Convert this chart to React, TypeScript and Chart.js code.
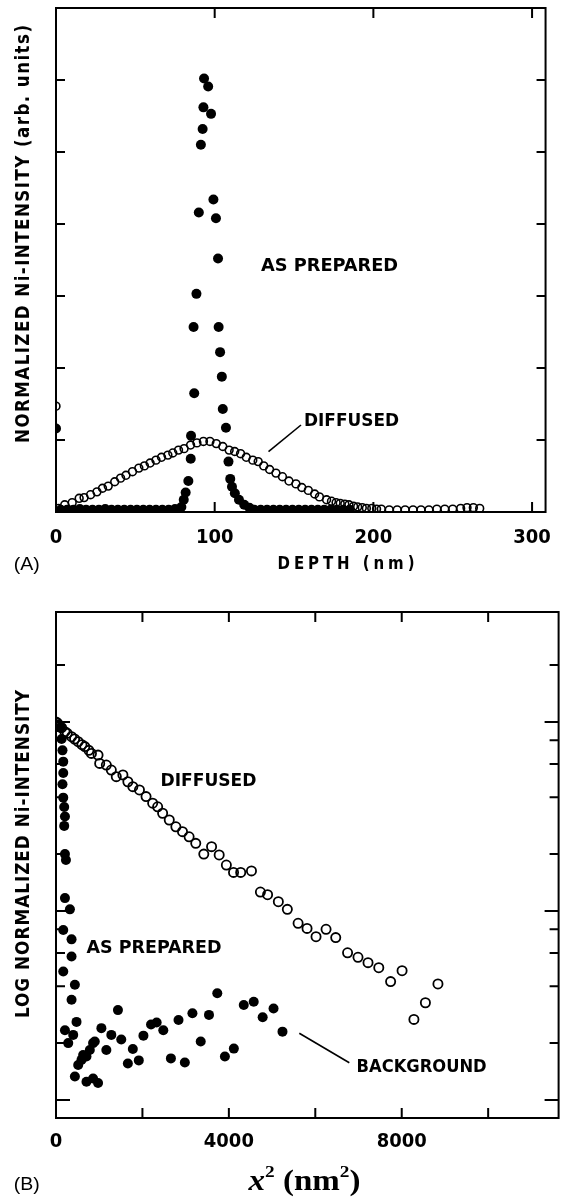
import { useEffect, useRef } from 'react';
import { Chart, registerables } from 'chart.js';

Chart.register(...registerables);

const PANEL_W = 565;
const PANEL_H = 600;
const SANS = "'DejaVu Sans Condensed', 'DejaVu Sans', sans-serif";

// ---------- (A) Ni depth profile ----------
const depthTicks = [0, 100, 200, 300];
const depthTickLabels = ['0', '100', '200', '300'];
const intensityTicksA = [1, 2, 3, 4, 5, 6, 7];

const preparedDepth = [
  93.3, 95.9, 92.9, 97.7, 92.4, 91.3, 99.2, 90.0, 100.8, 102.1, 88.5, 86.7, 102.5, 103.4, 104.5,
  87.1, 105.1, 107.1, 85.1, 84.9, 108.7, 83.4, 109.8, 81.7, 80.5, 79.0, 110.9, 112.7, 115.3, 118.6,
  121.9, 0,
  3, 7, 11, 15, 19, 23, 27, 31, 35, 39, 43, 47, 51, 55, 59, 63, 67, 71, 75,
  125, 129, 133, 137, 141, 145, 149, 153, 157, 161, 165, 169, 173, 177, 181, 185,
];
const preparedIntensity = [
  6.02, 5.91, 5.62, 5.53, 5.32, 5.10, 4.34, 4.16, 4.08, 3.52, 3.03, 2.57, 2.57, 2.22, 1.88,
  1.65, 1.43, 1.17, 1.06, 0.74, 0.70, 0.43, 0.46, 0.27, 0.17, 0.07, 0.35, 0.26, 0.17, 0.10,
  0.06, 1.16,
  0.03, 0.03, 0.03, 0.04, 0.03, 0.03, 0.03, 0.04, 0.03, 0.03, 0.03, 0.03, 0.03, 0.03, 0.03, 0.03, 0.03, 0.03, 0.04,
  0.03, 0.03, 0.03, 0.03, 0.03, 0.03, 0.03, 0.03, 0.03, 0.03, 0.03, 0.03, 0.03, 0.03, 0.03, 0.03,
];

const diffusedDepth = [
  0, 1.5, 5.5, 10.2, 14.6, 17.7, 21.8, 25.8, 29.3, 32.9, 37.0, 40.7, 44.1, 48.2, 52.2, 55.7, 59.3,
  63.0, 66.5, 70.5, 73.6, 77.2, 80.7, 84.8, 88.8, 92.9, 97.0, 101.0, 105.1, 109.1, 112.6, 116.3,
  119.9, 124.0, 127.4, 130.9, 134.6, 138.6, 142.7, 146.8, 151.2, 154.9, 159.0, 163.0, 166.0, 170.5,
  173.6, 176.5, 179.1, 182.0, 184.6, 187.5, 190.1, 193.0, 195.6, 199.0, 202.0,
  205, 210, 215, 220, 225, 230, 235, 240, 245, 250, 255, 259, 263, 267,
];
const diffusedIntensity = [
  1.47, 0.05, 0.10, 0.13, 0.19, 0.20, 0.24, 0.28, 0.33, 0.36, 0.42, 0.47, 0.51, 0.56, 0.61, 0.64, 0.68,
  0.72, 0.76, 0.79, 0.82, 0.86, 0.88, 0.93, 0.96, 0.98, 0.98, 0.95, 0.91, 0.86, 0.84, 0.81,
  0.76, 0.72, 0.70, 0.64, 0.59, 0.54, 0.49, 0.43, 0.39, 0.34, 0.30, 0.25, 0.21, 0.17,
  0.15, 0.13, 0.12, 0.11, 0.10, 0.08, 0.07, 0.06, 0.05, 0.05, 0.04,
  0.04, 0.03, 0.03, 0.03, 0.03, 0.03, 0.03, 0.04, 0.04, 0.04, 0.05, 0.06, 0.06, 0.05,
];

// ---------- (B) log intensity versus x² ----------
const x2Ticks = [0, 2000, 4000, 6000, 8000, 10000];
const x2TickLabels = ['0', '', '4000', '', '8000', ''];
const logTicks = [0.01, 0.02, 0.04, 0.06, 0.08, 0.1, 0.2, 0.4, 0.6, 0.8, 1, 2];
const logDecades = [0.01, 0.1, 1];

const diffusedX2 = [
  0, 30, 60, 92, 130, 207, 260, 360, 430, 513, 600, 667, 760, 820, 973, 1011, 1165, 1280, 1395,
  1548, 1663, 1778, 1931, 2084, 2237, 2352, 2467, 2621, 2774, 2927, 3080, 3234, 3420, 3600, 3776,
  3942, 4108, 4274, 4523, 4730, 4896, 5145, 5353, 5602, 5809, 6017, 6249, 6473, 6747, 6988, 7220,
  7469, 7743, 8008, 8282, 8548, 8838,
];
const diffusedLogIntensity = [
  1.0, 0.989, 0.966, 0.944, 0.933, 0.889, 0.871, 0.836, 0.813, 0.787, 0.759, 0.741, 0.708, 0.682,
  0.668, 0.604, 0.592, 0.557, 0.514, 0.525, 0.483, 0.455, 0.437, 0.403, 0.372, 0.356, 0.329, 0.303,
  0.279, 0.263, 0.247, 0.228, 0.2, 0.219, 0.198, 0.175, 0.16, 0.16, 0.163, 0.126, 0.122, 0.112,
  0.102, 0.0861, 0.0809, 0.0731, 0.08, 0.0723, 0.0601, 0.0569, 0.0533, 0.0501, 0.0423, 0.0483,
  0.0267, 0.0327, 0.0411,
];

const preparedX2 = [
  100, 130, 150, 168, 168, 150, 168, 190, 207, 190, 207, 230, 207, 322, 168, 360, 360, 168, 437, 360,
  475, 207, 398, 283,
  437, 705, 858, 973, 513, 590, 628, 705, 782, 858, 897, 1165, 1050, 1280, 1433, 1510, 1663, 1778,
  1916, 2023, 2199, 2329, 2483, 2659, 2835, 2981, 3157, 3349, 3540, 3732, 3908, 4115, 4345, 4575,
  4782, 5034, 5241,
];
const preparedLogIntensity = [
  0.933, 0.813, 0.708, 0.617, 0.537, 0.468, 0.398, 0.355, 0.316, 0.282, 0.2, 0.186, 0.117, 0.102,
  0.0794, 0.0708, 0.0575, 0.0479, 0.0407, 0.0339, 0.0259, 0.0234, 0.0221, 0.02,
  0.0133, 0.0125, 0.013, 0.0123, 0.0153, 0.0163, 0.0173, 0.017, 0.0184, 0.02, 0.0204, 0.0184, 0.024,
  0.0221, 0.0299, 0.0209, 0.0156, 0.0186, 0.0162, 0.0219, 0.0251, 0.0257, 0.0234, 0.0166, 0.0265,
  0.0158, 0.0288, 0.0204, 0.0282, 0.0367, 0.017, 0.0187, 0.0318, 0.0331, 0.0274, 0.0305, 0.023,
];

const toPoints = (xs: number[], ys: number[]) => xs.map((x, i) => ({ x, y: ys[i] }));

type TextItem = {
  text: string;
  x: number; // centre
  y: number; // centre of capitals
  w: number; // drawn width
  size: number;
  weight?: string;
  font?: string;
  spacing?: number;
  rotate?: boolean;
};

function drawText(ctx: CanvasRenderingContext2D, t: TextItem) {
  ctx.save();
  ctx.font = `${t.weight ?? 'bold'} ${t.size}px ${t.font ?? SANS}`;
  const sp = t.spacing ?? 0;
  (ctx as any).letterSpacing = `${sp}px`;
  const natural = ctx.measureText(t.text).width - sp;
  ctx.translate(t.x, t.y);
  if (t.rotate) ctx.rotate(-Math.PI / 2);
  ctx.scale(t.w / natural, 1);
  ctx.fillStyle = '#000';
  ctx.textAlign = 'left';
  ctx.textBaseline = 'alphabetic';
  ctx.fillText(t.text, -natural / 2, t.size * 0.36);
  ctx.restore();
}

type Segment = [number, number, number, number];

function framePlugin(xTicks: number[], yTicks: number[], majorY: number[], texts: TextItem[], lines: Segment[], extra?: (ctx: CanvasRenderingContext2D) => void) {
  return {
    id: 'frameAndNotes',
    afterDatasetsDraw(chart: any) {
      const { ctx, chartArea: a, scales } = chart;
      ctx.save();
      ctx.strokeStyle = '#000';
      ctx.lineWidth = 2;
      ctx.strokeRect(a.left, a.top, a.right - a.left, a.bottom - a.top);
      ctx.beginPath();
      xTicks.forEach((v) => {
        const x = scales.x.getPixelForValue(v);
        if (x <= a.left + 1 || x >= a.right - 1) return;
        ctx.moveTo(x, a.bottom);
        ctx.lineTo(x, a.bottom - 10);
        ctx.moveTo(x, a.top);
        ctx.lineTo(x, a.top + 10);
      });
      yTicks.forEach((v) => {
        const y = scales.y.getPixelForValue(v);
        if (y <= a.top + 1 || y >= a.bottom - 1) return;
        const len = majorY.includes(v) ? 14 : 9;
        ctx.moveTo(a.left, y);
        ctx.lineTo(a.left + len, y);
        ctx.moveTo(a.right, y);
        ctx.lineTo(a.right - len, y);
      });
      ctx.stroke();
      ctx.lineWidth = 1.6;
      ctx.beginPath();
      lines.forEach(([x1, y1, x2, y2]) => {
        ctx.moveTo(x1, y1);
        ctx.lineTo(x2, y2);
      });
      ctx.stroke();
      ctx.restore();
      texts.forEach((t) => drawText(ctx, t));
      if (extra) extra(ctx);
    },
  };
}

function drawX2Title(ctx: CanvasRenderingContext2D, cx: number, baseline: number, width: number) {
  const serif = "'Liberation Serif', 'DejaVu Serif', serif";
  const parts = [
    { t: 'x', f: `italic bold 29px ${serif}`, dy: 0 },
    { t: '2', f: `bold 17px ${serif}`, dy: -13 },
    { t: ' (nm', f: `bold 29px ${serif}`, dy: 0 },
    { t: '2', f: `bold 17px ${serif}`, dy: -13 },
    { t: ')', f: `bold 29px ${serif}`, dy: 0 },
  ];
  ctx.save();
  let total = 0;
  const widths = parts.map((p) => {
    ctx.font = p.f;
    const w = ctx.measureText(p.t).width;
    total += w;
    return w;
  });
  const k = width / total;
  ctx.translate(cx - width / 2, baseline);
  ctx.scale(k, 1);
  ctx.fillStyle = '#000';
  ctx.textBaseline = 'alphabetic';
  let x = 0;
  parts.forEach((p, i) => {
    ctx.font = p.f;
    ctx.fillText(p.t, x, p.dy);
    x += widths[i];
  });
  ctx.restore();
}

const tickFont = { family: SANS, size: 20, weight: 'bold' as const };

function makeDepthChart(canvas: HTMLCanvasElement) {
  const texts: TextItem[] = [
    { text: 'AS PREPARED', x: 329.5, y: 265, w: 137, size: 18 },
    { text: 'DIFFUSED', x: 351.5, y: 420, w: 95, size: 18 },
    { text: 'DEPTH (nm)', x: 346, y: 563, w: 137, size: 17, spacing: 4 },
    { text: '(A)', x: 26.7, y: 563, w: 26, size: 19, weight: 'normal', font: "'Liberation Sans', Arial, sans-serif" },
    { text: 'NORMALIZED Ni-INTENSITY (arb. units)', x: 22.5, y: 234, w: 418, size: 19, spacing: 1.5, rotate: true },
  ];
  const lines: Segment[] = [[301, 425, 268.5, 451.7]];
  return new Chart(canvas, {
    type: 'scatter',
    data: {
      datasets: [
        {
          label: 'AS PREPARED',
          data: toPoints(preparedDepth, preparedIntensity),
          pointRadius: 5,
          pointBorderWidth: 0,
          pointBackgroundColor: '#000',
          pointBorderColor: '#000',
        },
        {
          label: 'DIFFUSED',
          data: toPoints(diffusedDepth, diffusedIntensity),
          pointRadius: 3.9,
          pointBorderWidth: 1.6,
          pointBackgroundColor: 'rgba(0,0,0,0)',
          pointBorderColor: '#000',
        },
      ],
    },
    options: {
      animation: false,
      responsive: false,
      devicePixelRatio: 1,
      layout: { padding: { left: 0, right: 3, top: 8, bottom: 0 } },
      plugins: { legend: { display: false }, tooltip: { enabled: false } },
      scales: {
        x: {
          type: 'linear',
          min: 0,
          max: 308.5,
          afterBuildTicks: (s: any) => {
            s.ticks = depthTicks.map((value) => ({ value }));
          },
          afterFit: (s: any) => {
            s.height = 88;
          },
          ticks: {
            callback: (_v: any, i: number) => depthTickLabels[i] ?? '',
            font: tickFont,
            color: '#000',
            padding: 14,
            maxRotation: 0,
            autoSkip: false,
          },
          grid: { display: false, drawTicks: false },
          border: { display: false },
        },
        y: {
          type: 'linear',
          min: 0,
          max: 7,
          afterBuildTicks: (s: any) => {
            s.ticks = intensityTicksA.map((value) => ({ value }));
          },
          afterFit: (s: any) => {
            s.width = 56;
          },
          ticks: { display: false },
          grid: { display: false, drawTicks: false },
          border: { display: false },
        },
      },
    },
    plugins: [framePlugin(depthTicks, intensityTicksA, [], texts, lines)],
  } as any);
}

function makeLogChart(canvas: HTMLCanvasElement) {
  const texts: TextItem[] = [
    { text: 'DIFFUSED', x: 208.5, y: 179.3, w: 96, size: 18 },
    { text: 'AS PREPARED', x: 154, y: 346.7, w: 135, size: 18 },
    { text: 'BACKGROUND', x: 421.6, y: 465.7, w: 130, size: 18 },
    { text: '(B)', x: 26.7, y: 583, w: 26, size: 19, weight: 'normal', font: "'Liberation Sans', Arial, sans-serif" },
    { text: 'LOG NORMALIZED Ni-INTENSITY', x: 22.5, y: 254, w: 328, size: 19, spacing: 1, rotate: true },
  ];
  const lines: Segment[] = [[299.3, 433.3, 349.3, 462.7]];
  return new Chart(canvas, {
    type: 'scatter',
    data: {
      datasets: [
        {
          label: 'AS PREPARED',
          data: toPoints(preparedX2, preparedLogIntensity),
          pointRadius: 5,
          pointBorderWidth: 0,
          pointBackgroundColor: '#000',
          pointBorderColor: '#000',
        },
        {
          label: 'DIFFUSED',
          data: toPoints(diffusedX2, diffusedLogIntensity),
          pointRadius: 4.6,
          pointBorderWidth: 1.8,
          pointBackgroundColor: 'rgba(0,0,0,0)',
          pointBorderColor: '#000',
        },
      ],
    },
    options: {
      animation: false,
      responsive: false,
      devicePixelRatio: 1,
      layout: { padding: { left: 0, right: 3, top: 12, bottom: 0 } },
      plugins: { legend: { display: false }, tooltip: { enabled: false } },
      scales: {
        x: {
          type: 'linear',
          min: 0,
          max: 11630,
          afterBuildTicks: (s: any) => {
            s.ticks = x2Ticks.map((value) => ({ value }));
          },
          afterFit: (s: any) => {
            s.height = 82;
          },
          ticks: {
            callback: (_v: any, i: number) => x2TickLabels[i] ?? '',
            font: tickFont,
            color: '#000',
            padding: 12,
            maxRotation: 0,
            autoSkip: false,
          },
          grid: { display: false, drawTicks: false },
          border: { display: false },
        },
        y: {
          type: 'logarithmic',
          min: 0.00803,
          max: 3.82,
          afterBuildTicks: (s: any) => {
            s.ticks = logTicks.map((value) => ({ value }));
          },
          afterFit: (s: any) => {
            s.width = 56;
          },
          ticks: { display: false },
          grid: { display: false, drawTicks: false },
          border: { display: false },
        },
      },
    },
    plugins: [framePlugin(x2Ticks, logTicks, logDecades, texts, lines, (ctx) => drawX2Title(ctx, 304.5, 590, 112))],
  } as any);
}

function Panel({ top, make }: { top: number; make: (c: HTMLCanvasElement) => Chart }) {
  const ref = useRef<HTMLCanvasElement | null>(null);
  useEffect(() => {
    if (!ref.current) return;
    const chart = make(ref.current);
    return () => chart.destroy();
  }, [make]);
  return (
    <canvas
      ref={ref}
      width={PANEL_W}
      height={PANEL_H}
      style={{ position: 'absolute', left: 0, top, width: PANEL_W, height: PANEL_H }}
    />
  );
}

export default function App() {
  return (
    <div style={{ position: 'absolute', left: 0, top: 0, width: PANEL_W, height: PANEL_H * 2, background: '#fff' }}>
      <Panel top={0} make={makeDepthChart} />
      <Panel top={PANEL_H} make={makeLogChart} />
    </div>
  );
}
